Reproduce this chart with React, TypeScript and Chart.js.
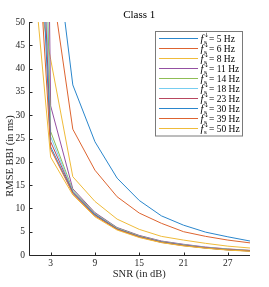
import { useEffect, useRef } from "react";
import { Chart, registerables } from "chart.js";

Chart.register(...registerables);

const titleText = "Class 1";
const xTitle = "SNR (in dB)";
const yTitle = "RMSE BBI (in ms)";

const snr = [0, 3, 6, 9, 12, 15, 18, 21, 24, 27, 30];
const rates = [5, 6, 8, 11, 14, 18, 23, 30, 39, 50];

const rmse5Hz = [150, 75, 36.5, 24.3, 16.5, 11.7, 8.4, 6.4, 4.9, 3.9, 3.0];
const rmse6Hz = [120, 60, 27, 18.2, 12.5, 9.0, 6.8, 5.0, 4.0, 3.2, 2.6];
const rmse8Hz = [67, 42, 16.8, 11.5, 7.7, 5.5, 4.0, 3.2, 2.5, 1.9, 1.5];
const rmse11Hz = [400, 32, 14.2, 9.1, 5.9, 4.2, 3.0, 2.3, 1.7, 1.3, 1.0];
const rmse14Hz = [220, 26.5, 13.9, 8.9, 5.8, 4.1, 2.9, 2.2, 1.6, 1.25, 0.95];
const rmse18Hz = [170, 25.4, 13.7, 8.8, 5.7, 4.0, 2.85, 2.15, 1.6, 1.2, 0.9];
const rmse23Hz = [145, 24.3, 13.5, 8.7, 5.6, 3.95, 2.8, 2.1, 1.55, 1.15, 0.9];
const rmse30Hz = [125, 23.2, 13.4, 8.6, 5.55, 3.9, 2.75, 2.05, 1.5, 1.1, 0.85];
const rmse39Hz = [100, 22.7, 13.2, 8.4, 5.5, 3.85, 2.7, 2.0, 1.5, 1.1, 0.85];
const rmse50Hz = [73, 21, 12.9, 8.2, 5.35, 3.75, 2.65, 1.95, 1.45, 1.05, 0.8];

const series = [rmse5Hz, rmse6Hz, rmse8Hz, rmse11Hz, rmse14Hz, rmse18Hz, rmse23Hz, rmse30Hz, rmse39Hz, rmse50Hz];

const lineColors = [
  "#2a86cc", "#dd6430", "#efbb3a", "#9450a2", "#8fbd55",
  "#76cdf0", "#b8475e", "#2a86cc", "#dd6430", "#efbb3a",
];

const xTickValues = [3, 9, 15, 21, 27];
const yMin = 0;
const yMax = 50;
const yStep = 5;
const xMin = 0;
const xMax = 30;

const SERIF = "'Liberation Serif', 'DejaVu Serif', serif";
const AXIS_COLOR = "#262626";

const decorPlugin = {
  id: "decor",
  afterDraw(chart: any) {
    const { ctx, chartArea } = chart;
    const xs = chart.scales.x;
    const ys = chart.scales.y;
    const { left, right, top, bottom } = chartArea;
    ctx.save();
    ctx.strokeStyle = AXIS_COLOR;
    ctx.lineWidth = 1;
    ctx.beginPath();
    const lx = Math.round(left) + 0.5;
    const by = Math.round(bottom) + 0.5;
    ctx.moveTo(lx, top);
    ctx.lineTo(lx, by);
    ctx.lineTo(right, by);
    ctx.stroke();
    ctx.beginPath();
    for (let v = yMin; v <= yMax; v += yStep) {
      const py = Math.round(ys.getPixelForValue(v)) + 0.5;
      ctx.moveTo(lx, py);
      ctx.lineTo(lx + 3, py);
    }
    for (const v of xTickValues) {
      const px = Math.round(xs.getPixelForValue(v)) + 0.5;
      ctx.moveTo(px, by);
      ctx.lineTo(px, by - 3);
    }
    ctx.stroke();

    ctx.fillStyle = "#000";
    ctx.textAlign = "center";
    ctx.textBaseline = "middle";
    ctx.font = `11px ${SERIF}`;
    ctx.fillText(titleText, (left + right) / 2, 15);
    ctx.font = `10.5px ${SERIF}`;
    ctx.fillStyle = AXIS_COLOR;
    ctx.fillText(xTitle, (left + right) / 2, 274);
    ctx.save();
    ctx.translate(10, 156);
    ctx.rotate(-Math.PI / 2);
    ctx.fillText(yTitle, 0, 0);
    ctx.restore();

    const bx = 155.5, bw = 87, byy = 31.5, bh = 104.5;
    ctx.fillStyle = "#fff";
    ctx.fillRect(bx, byy, bw, bh);
    ctx.strokeStyle = "#7a7a7a";
    ctx.lineWidth = 1;
    ctx.strokeRect(bx, byy, bw, bh);
    chart.data.datasets.forEach((ds: any, i: number) => {
      const ry = 38.5 + i * 10;
      ctx.strokeStyle = ds.borderColor;
      ctx.lineWidth = 1;
      ctx.beginPath();
      ctx.moveTo(159, ry);
      ctx.lineTo(198, ry);
      ctx.stroke();
      let tx = 200.5;
      ctx.fillStyle = "#000";
      ctx.textAlign = "left";
      ctx.textBaseline = "alphabetic";
      const base = ry + 3;
      ctx.font = `italic 10.5px ${SERIF}`;
      ctx.fillText("f", tx, base);
      tx += ctx.measureText("f").width + 0.5;
      ctx.font = `7px ${SERIF}`;
      ctx.fillText("s", tx, base + 2);
      ctx.font = `6px 'DejaVu Sans', sans-serif`;
      ctx.fillText("↓", tx, base - 4.5);
      tx += 5;
      ctx.font = `9.5px ${SERIF}`;
      ctx.fillText(`= ${rates[i]} Hz`, tx, base);
    });
    ctx.restore();
  },
};

export default function App() {
  const ref = useRef<HTMLCanvasElement | null>(null);
  useEffect(() => {
    if (!ref.current) return;
    const n = series.length;
    const chart = new Chart(ref.current, {
      type: "line",
      data: {
        datasets: series.map((vals, i) => ({
          label: `${rates[i]} Hz`,
          data: snr.map((x, j) => ({ x, y: vals[j] })),
          borderColor: lineColors[i],
          backgroundColor: lineColors[i],
          borderWidth: 1,
          pointRadius: 0,
          tension: 0,
          fill: false,
          order: n - i,
        })),
      },
      options: {
        animation: false,
        responsive: false,
        events: [],
        layout: { padding: { left: 0, right: 19, top: 22, bottom: 0 } },
        plugins: {
          legend: { display: false },
          title: { display: false },
          tooltip: { enabled: false },
        },
        scales: {
          x: {
            type: "linear",
            min: xMin,
            max: xMax,
            grid: { display: false, drawTicks: false },
            border: { display: false },
            afterBuildTicks: (scale: any) => {
              scale.ticks = xTickValues.map((v) => ({ value: v }));
            },
            afterFit: (scale: any) => {
              scale.height = 32;
            },
            ticks: {
              padding: 3,
              color: AXIS_COLOR,
              maxRotation: 0,
              autoSkip: false,
              font: { family: SERIF, size: 9.5 },
            },
          },
          y: {
            type: "linear",
            min: yMin,
            max: yMax,
            grid: { display: false, drawTicks: false },
            border: { display: false },
            afterFit: (scale: any) => {
              scale.width = 28.5;
            },
            ticks: {
              stepSize: yStep,
              padding: 3.5,
              color: AXIS_COLOR,
              font: { family: SERIF, size: 9.5 },
            },
          },
        },
      },
      plugins: [decorPlugin],
    });
    return () => chart.destroy();
  }, []);
  return (
    <div style={{ position: "fixed", left: 0, top: 0, width: 269, height: 287, background: "#fff" }}>
      <canvas ref={ref} width={269} height={287} />
    </div>
  );
}
